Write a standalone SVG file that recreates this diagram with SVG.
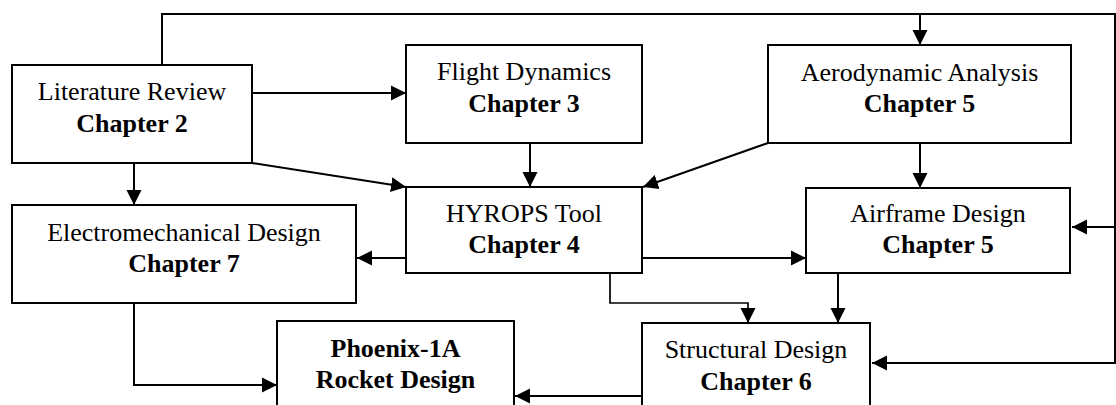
<svg xmlns="http://www.w3.org/2000/svg" width="1116" height="405" viewBox="0 0 1116 405">
<defs>
<marker id="ah" markerUnits="userSpaceOnUse" markerWidth="16" markerHeight="16" viewBox="0 0 16 16" refX="15" refY="8" orient="auto">
<path d="M0,0.5 L15,8 L0,15.5 Z" fill="#000"/>
</marker>
<style>
.box{fill:#fff;stroke:#000;stroke-width:2}
.t{font-family:"Liberation Serif","Times New Roman",serif;font-size:26px;text-anchor:middle;fill:#000}
.b{font-weight:bold}
.c{fill:none;stroke:#000;stroke-width:2}
.thin{stroke-width:1.7}
</style>
</defs>
<rect width="1116" height="405" fill="#fff"/>
<g id="connectors">
<polyline class="c" points="162,65 162,14 1115,14 1115,363 872,363" marker-end="url(#ah)"/>
<line class="c" x1="920" y1="14" x2="920" y2="45" marker-end="url(#ah)"/>
<line class="c" x1="1115" y1="227" x2="1072" y2="227" marker-end="url(#ah)"/>
<line class="c" x1="252" y1="93" x2="406" y2="93" marker-end="url(#ah)"/>
<line class="c" x1="252" y1="163" x2="406" y2="187" marker-end="url(#ah)"/>
<line class="c" x1="134" y1="163" x2="134" y2="205" marker-end="url(#ah)"/>
<line class="c" x1="530" y1="143" x2="530" y2="187" marker-end="url(#ah)"/>
<line class="c" x1="768" y1="143" x2="643" y2="187" marker-end="url(#ah)"/>
<line class="c" x1="920" y1="143" x2="920" y2="188" marker-end="url(#ah)"/>
<line class="c" x1="406" y1="258" x2="357" y2="258" marker-end="url(#ah)"/>
<line class="c" x1="642" y1="258" x2="806" y2="258" marker-end="url(#ah)"/>
<polyline class="c thin" points="610,273 610,303 748,303 748,323" marker-end="url(#ah)"/>
<line class="c" x1="838" y1="273" x2="838" y2="323" marker-end="url(#ah)"/>
<polyline class="c" points="134,303 134,385 277,385" marker-end="url(#ah)"/>
<line class="c" x1="642" y1="396" x2="515" y2="396" marker-end="url(#ah)"/>
</g>
<g id="literature">
<rect class="box" x="12" y="65" width="240" height="98"/>
<text class="t" x="132" y="100">Literature Review</text>
<text class="t b" x="132" y="132">Chapter 2</text>
</g>
<g id="flight">
<rect class="box" x="406" y="45" width="236" height="98"/>
<text class="t" x="524" y="80">Flight Dynamics</text>
<text class="t b" x="524" y="112">Chapter 3</text>
</g>
<g id="aero">
<rect class="box" x="768" y="45" width="303" height="98"/>
<text class="t" x="919.5" y="81">Aerodynamic Analysis</text>
<text class="t b" x="919.5" y="112">Chapter 5</text>
</g>
<g id="hyrops">
<rect class="box" x="406" y="187" width="236" height="86"/>
<text class="t" x="524" y="222">HYROPS Tool</text>
<text class="t b" x="524" y="253">Chapter 4</text>
</g>
<g id="airframe">
<rect class="box" x="806" y="188" width="264" height="85"/>
<text class="t" x="938" y="222">Airframe Design</text>
<text class="t b" x="938" y="253">Chapter 5</text>
</g>
<g id="electro">
<rect class="box" x="12" y="205" width="344" height="98"/>
<text class="t" x="184" y="241">Electromechanical Design</text>
<text class="t b" x="184" y="272">Chapter 7</text>
</g>
<g id="phoenix">
<rect class="box" x="277" y="321" width="237" height="110"/>
<text class="t b" x="395.5" y="357">Phoenix-1A</text>
<text class="t b" x="395.5" y="388">Rocket Design</text>
</g>
<g id="structural">
<rect class="box" x="642" y="323" width="228" height="110"/>
<text class="t" x="756" y="358">Structural Design</text>
<text class="t b" x="756" y="390">Chapter 6</text>
</g>
</svg>
